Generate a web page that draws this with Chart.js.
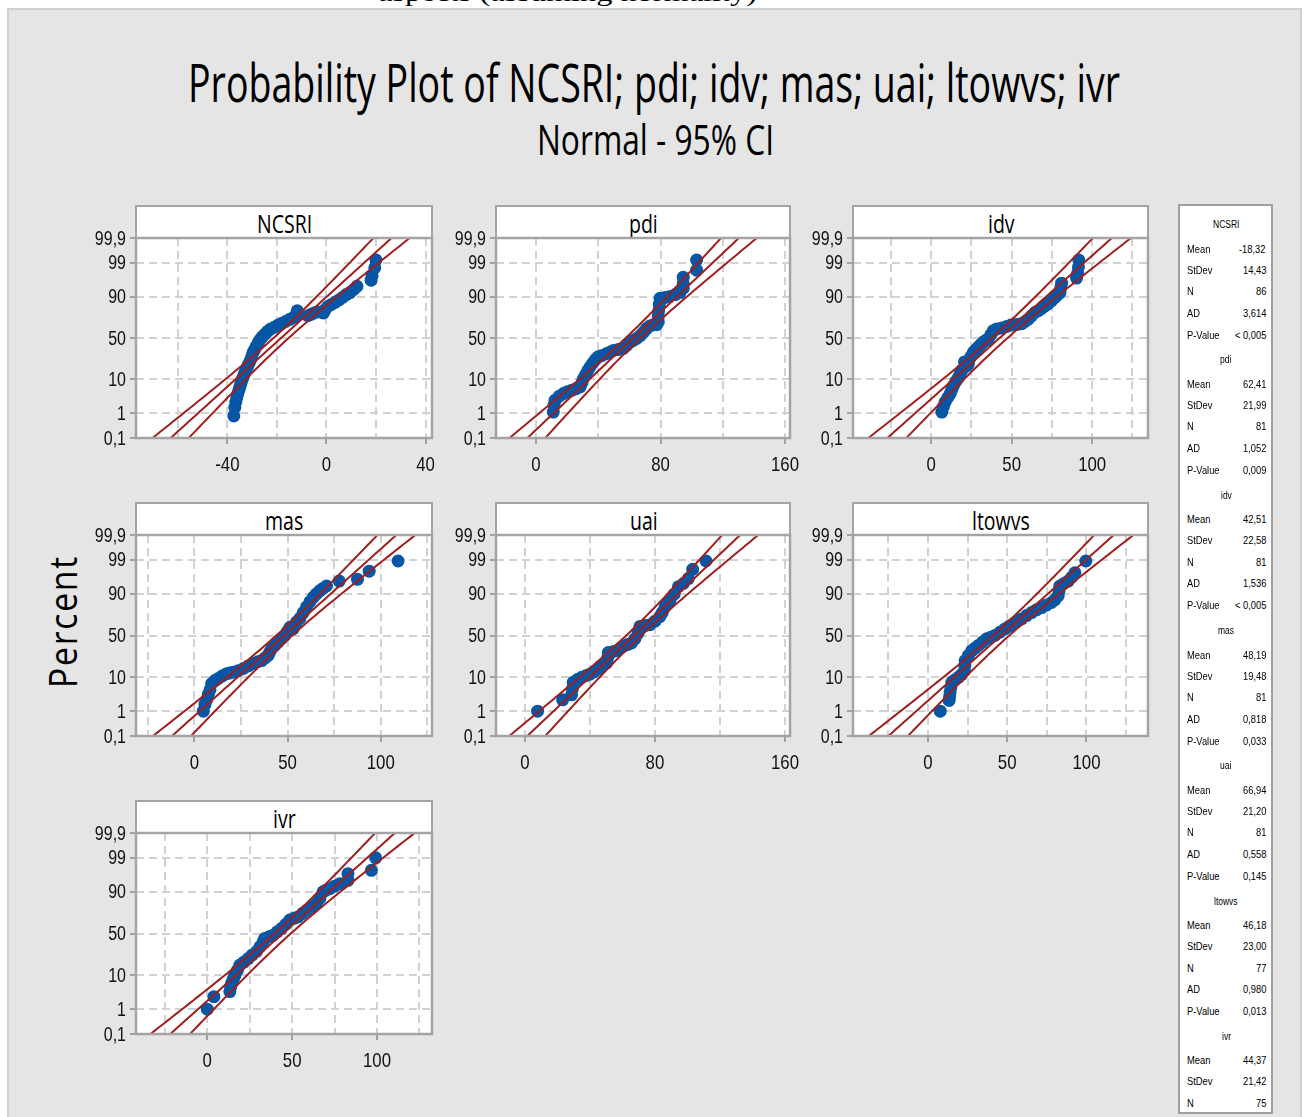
<!DOCTYPE html>
<html>
<head>
<meta charset="utf-8">
<script src="https://cdn.jsdelivr.net/npm/chart.js@4.4.1/dist/chart.umd.min.js"></script>
<style>
  body { margin: 0; width: 1307px; height: 1117px; overflow: hidden; background: #fff; position: relative; }
  #page { position: absolute; left: 7px; top: 8px; width: 1291px; height: 1130px; background: #e5e5e5; border: 2px solid #d0d0d0; }
  .txt { position: absolute; white-space: nowrap; transform-origin: 0 0; color: #000; }
  .hdr { position: absolute; background: #fff; border: 2px solid #a4a4a4; border-bottom: none; box-sizing: border-box; }
  .plot { position: absolute; }
  #stats { position: absolute; left: 1178px; top: 204px; width: 95px; height: 910px; background: #fff; border: 2px solid #a0a0a0; box-sizing: border-box; }
</style>
</head>
<body>
<div id="page"></div>
<div id="stats"></div>
<script>
// values
const panelNames = ["NCSRI", "pdi", "idv", "mas", "uai", "ltowvs", "ivr"];
const means = [-18.32, 62.41, 42.51, 48.19, 66.94, 46.18, 44.37];
const stdevs = [14.43, 21.99, 22.58, 19.48, 21.20, 23.00, 21.42];
const counts = [86, 81, 81, 81, 81, 77, 75];
const adValues = [3.614, 1.052, 1.536, 0.818, 0.558, 0.980, null];
const pValues = ["< 0,005", "0,009", "< 0,005", "0,033", "0,145", "0,013", null];

const percentTicks = [0.1, 1, 10, 50, 90, 99, 99.9];
const percentLabels = ["0,1", "1", "10", "50", "90", "99", "99,9"];

const xLabels = [[-40, 0, 40], [0, 80, 160], [0, 50, 100], [0, 50, 100], [0, 80, 160], [0, 50, 100], [0, 50, 100]];
const xGrid = [
  [-60, -40, -20, 0, 20, 40],
  [0, 40, 80, 120, 160],
  [-25, 0, 25, 50, 75, 100, 125],
  [-25, 0, 25, 50, 75, 100, 125],
  [0, 40, 80, 120, 160],
  [-25, 0, 25, 50, 75, 100, 125],
  [-25, 0, 25, 50, 75, 100, 125]
];
const xLimits = [[-76.9, 42.6], [-25.7, 163.2], [-48.6, 134.7], [-31.3, 127.5], [-17.8, 163.1], [-47.2, 138.8], [-42, 132.4]];

// [value, percent]
const ncsriPoints = [[-37.4,0.8],[-37.0,1.6],[-36.6,2.4],[-36.2,3.3],[-35.8,4.3],[-35.3,5.5],[-34.9,6.8],[-34.5,8.2],[-34.1,9.8],[-33.6,11.5],[-33.1,13.5],[-32.6,15.8],[-32.0,18.3],[-31.4,21],[-30.8,24],[-30.2,28],[-29.6,33],[-29.0,36],[-28.3,40],[-27.6,44],[-26.8,48],[-25.9,51.5],[-24.9,54.5],[-23.8,58],[-22.5,61],[-21,63],[-19.5,65.5],[-18,67.5],[-16.5,69.5],[-15,71.5],[-13.5,73.5],[-12.3,75],[-12.0,77.5],[-11.8,80],[-7.5,75.5],[-6,77],[-4.5,78.5],[-2.5,79],[-1.2,78],[-0.5,81],[0.5,83.5],[2,85],[3.5,86.5],[5,88],[6.5,89.5],[8,91],[9.5,92],[11,93.3],[12.3,94.5],[18,96.3],[18.4,97.3],[19.5,98.5],[20,99.2]];
const pdiPoints = [[11.1,1.1],[11.6,1.9],[12.2,2.7],[15,3.6],[17.6,4.3],[20,4.8],[22.9,5.3],[25.5,5.8],[28.3,6.5],[29.5,8.3],[30.4,10.4],[31.8,12.8],[33.2,15.5],[34.7,18.5],[36.5,22],[38.3,25.5],[40,28],[42.5,29.5],[45.4,31.5],[47.5,33],[49.7,35],[52.8,36],[56.1,37.5],[58.3,41],[60.4,45],[62.5,47],[64.7,49.5],[67,53],[69,57],[71,61.5],[73.2,64.5],[75.5,66],[77.5,66],[78.6,69],[78.6,75],[78.8,80],[79.2,85],[79.7,89],[83,89.5],[86,90],[89.5,91],[92.5,92],[94.6,93.8],[94.6,95.4],[94.6,97],[103.2,98.2],[103.2,99.2]];
const idvPoints = [[6.6,1.1],[7.6,1.7],[8.7,2.4],[10.3,3.3],[11.8,4.3],[12.8,5.6],[13.8,7],[15.3,9],[16.9,11],[18,13.5],[19,16],[20.7,23],[21.5,19],[23.1,21],[24.6,28],[26.2,33],[27.8,36],[29.3,39],[30.8,42],[32.4,45],[34,47],[35.5,49],[37,54],[38.6,59],[40.7,61],[43.8,62],[46.9,64],[49.5,65.5],[52.1,66],[54,66.5],[56.2,67],[58.3,69.5],[60.3,72],[62.4,75.5],[64.5,78.5],[66.5,80],[68.6,82],[70.7,84],[72.7,85.6],[74.8,87.5],[76.9,89.5],[78.5,91],[80,92],[80.5,94],[81,95.5],[90.3,96.8],[91,97.8],[91.5,98.6],[91.7,99.2]];
const masPoints = [[4.8,1],[5.7,1.7],[6.6,2.4],[7.5,3.5],[8.4,4.7],[9.3,7],[11,8.3],[12.9,9.3],[15,10.7],[17.3,12],[19,12.5],[20.9,13],[23.5,14],[26.3,15.5],[29,17.5],[31.6,19.5],[34,21],[36.1,22],[38,24.5],[39.6,27],[40.5,30.5],[41.4,34],[43.2,38],[45,42],[46.8,46],[48.6,50],[50,55],[51.3,60],[53,58],[54.8,66],[56.6,70],[58.4,76],[60.2,81],[62,85],[63.8,88],[65.5,90],[67.3,91.5],[69,92.6],[70.9,93.6],[77.7,95.3],[87.5,95.8],[93.8,97.6],[109.3,98.9]];
const uaiPoints = [[7.8,1],[23.2,2.4],[28.7,3.4],[29.2,5],[29.7,7.5],[32.3,8.8],[34.9,9.9],[37.5,10.8],[40,11.7],[42.5,13.2],[45.1,15],[47.7,17.5],[50.3,20],[51,25],[51.3,30],[54,31],[56.4,32],[58.5,34.5],[60.5,37],[63,39],[65.6,41],[67.7,46],[69.7,53],[70.3,57],[70.8,61],[73.8,62],[76.9,63],[80,67],[83,72],[84.5,76],[86.2,81],[87.7,83.5],[89.2,86],[91.8,89.8],[94.4,93.3],[97.5,94.5],[100.5,96],[103.2,97.9],[111.4,98.9]];
const ltowvsPoints = [[7.8,1],[13.4,2.3],[13.7,3],[14,4],[14.5,5.5],[15.1,7.5],[17.2,8.7],[19.3,9.9],[21.2,11.5],[23.1,14],[23.3,18],[23.5,22],[25.6,27],[27.7,32],[29.8,35],[31.9,38],[34.5,42],[37.1,46],[39.7,48],[42.3,50],[45.4,54],[48.6,58],[51.2,61],[53.9,64],[56.5,67],[59.1,69.5],[62.2,73],[65.4,76],[68.5,78.5],[71.7,80.5],[74.8,82.5],[78,84.5],[80.1,86.5],[82.2,89],[82.7,91.5],[83.2,93.6],[85.8,94.5],[88.5,95.3],[90.6,96.3],[92.7,97.3],[99.6,98.9]];
const ivrPoints = [[0,1],[3.9,2.6],[13.3,3.7],[13.8,5],[14.3,6.3],[15.3,8],[16.3,10],[17.8,13],[19.2,16.6],[21.6,19],[24.1,22],[26.5,25.5],[29,29],[31,34],[32.9,40],[33.9,44],[36.3,46],[38.8,48],[41.2,52],[43.7,56],[46.2,61],[48.6,66],[51,68],[53.5,69.5],[56,73],[58.4,76],[61.3,79],[64.3,82],[66.3,86],[68.2,90],[70.2,91],[72.2,91.6],[75,92.7],[78,93.7],[82.9,94.9],[82.9,96.7],[96.7,97.4],[99.2,99]];
const allPoints = [ncsriPoints, pdiPoints, idvPoints, masPoints, uaiPoints, ltowvsPoints, ivrPoints];

// layout: plot area left, top, width, height
const plotBoxes = [[136,238,296,200],[496,238,294,200],[853,238,295,200],[136,535,296,201],[496,535,294,201],[853,535,295,201],[136,833,296,201]];

const tickFont = "'Liberation Sans', Arial, sans-serif";
const red = "#a01e1e";
const blue = "#0656a6";

// inverse normal cdf (normal probability axis)
function probit(p) {
  const a = [-3.969683028665376e+01, 2.209460984245205e+02, -2.759285104469687e+02, 1.383577518672690e+02, -3.066479806614716e+01, 2.506628277459239e+00];
  const b = [-5.447609879822406e+01, 1.615858368580409e+02, -1.556989798598866e+02, 6.680131188771972e+01, -1.328068155288572e+01];
  const c = [-7.784894002430293e-03, -3.223964580411365e-01, -2.400758277161838e+00, -2.549671348850910e+00, 4.374664141464968e+00, 2.938163982698783e+00];
  const d = [7.784695709041462e-03, 3.224671290700398e-01, 2.445134137142996e+00, 3.754408661907416e+00];
  let q, r;
  if (p < 0.02425) {
    q = Math.sqrt(-2 * Math.log(p));
    return (((((c[0]*q+c[1])*q+c[2])*q+c[3])*q+c[4])*q+c[5]) / ((((d[0]*q+d[1])*q+d[2])*q+d[3])*q+1);
  }
  if (p > 1 - 0.02425) {
    q = Math.sqrt(-2 * Math.log(1 - p));
    return -(((((c[0]*q+c[1])*q+c[2])*q+c[3])*q+c[4])*q+c[5]) / ((((d[0]*q+d[1])*q+d[2])*q+d[3])*q+1);
  }
  q = p - 0.5; r = q * q;
  return (((((a[0]*r+a[1])*r+a[2])*r+a[3])*r+a[4])*r+a[5])*q / (((((b[0]*r+b[1])*r+b[2])*r+b[3])*r+b[4])*r+1);
}
const zMax = probit(0.999);

// text helper: x is left/center/right, y is baseline; k = baseline ratio with line-height 0
function addText(str, o) {
  const d = document.createElement('div');
  d.className = 'txt';
  d.textContent = str;
  d.style.font = o.font;
  d.style.lineHeight = '0';
  if (o.spacing) d.style.letterSpacing = o.spacing;
  document.body.appendChild(d);
  const natural = d.getBoundingClientRect().width;
  const s = o.width ? o.width / natural : (o.scale || 1);
  const w = natural * s;
  const size = parseFloat(o.font.match(/(\d+(\.\d+)?)px/)[1]);
  const k = o.k || 0.388;
  if (o.rotate) {
    d.style.left = (o.x - k * size) + 'px';
    d.style.top = (o.y + w / 2) + 'px';
    d.style.transform = 'rotate(-90deg) scaleX(' + s + ')';
    return d;
  }
  let left = o.x;
  if (o.align === 'center') left = o.x - w / 2;
  if (o.align === 'right') left = o.x - w;
  d.style.left = left + 'px';
  d.style.top = (o.y - k * size) + 'px';
  d.style.transform = 'scaleX(' + s + ')';
  return d;
}

// page texts
addText("aspects (assuming normality)", { font: "26px 'Liberation Serif', serif", x: 378, y: 2, width: 379, k: 0.3465 });
addText("Probability Plot of NCSRI; pdi; idv; mas; uai; ltowvs; ivr", { font: "53px 'Open Sans', sans-serif", x: 654, y: 103, width: 932, align: 'center' });
addText("Normal - 95% CI", { font: "42px 'Open Sans', sans-serif", x: 655.5, y: 155, width: 237, align: 'center' });
addText("Percent", { font: "38px 'Open Sans', sans-serif", spacing: "2px", x: 77, y: 621.5, width: 133, rotate: true });

// frame + white plot background
const framePlugin = {
  id: 'frame',
  beforeDraw(chart) {
    const { ctx, chartArea: a } = chart;
    ctx.save();
    ctx.fillStyle = '#fff';
    ctx.fillRect(a.left, a.top, a.width, a.height);
    ctx.restore();
  },
  afterDraw(chart) {
    const { ctx, chartArea: a } = chart;
    ctx.save();
    ctx.strokeStyle = '#a4a4a4';
    ctx.lineWidth = 2.5;
    ctx.strokeRect(a.left, a.top, a.width, a.height);
    ctx.restore();
  }
};

// condensed tick labels placed through the chart's scales
function squeezed(ctx, s, x, y, align) {
  ctx.save();
  ctx.translate(x, y);
  ctx.scale(0.8, 1);
  ctx.textAlign = align;
  ctx.fillText(s, 0, 0);
  ctx.restore();
}
const tickLabelPlugin = {
  id: 'tickLabels',
  afterDraw(chart, args, opts) {
    const { ctx, chartArea: a, scales } = chart;
    ctx.save();
    ctx.fillStyle = '#111';
    ctx.textBaseline = 'middle';
    ctx.font = '21px ' + tickFont;
    opts.labels.forEach(v => {
      squeezed(ctx, String(v), scales.x.getPixelForValue(v), a.bottom + 27, 'center');
    });
    ctx.font = '20px ' + tickFont;
    percentTicks.forEach((p, k) => {
      squeezed(ctx, percentLabels[k], a.left - 10, scales.y.getPixelForValue(probit(p / 100)) + 1, 'right');
    });
    ctx.restore();
  }
};

function lineData(m, s, n, side) {
  const out = [];
  for (let i = 0; i <= 60; i++) {
    const z = -zMax + (2 * zMax) * i / 60;
    const half = 1.96 * s * Math.sqrt(1 / n + z * z / (2 * n));
    out.push({ x: m + z * s + side * half, y: z });
  }
  return out;
}

panelNames.forEach((name, i) => {
  const [px, py, pw, ph] = plotBoxes[i];

  const hdr = document.createElement('div');
  hdr.className = 'hdr';
  hdr.style.left = (px - 1) + 'px';
  hdr.style.top = (py - 33) + 'px';
  hdr.style.width = (pw + 2) + 'px';
  hdr.style.height = '34px';
  document.body.appendChild(hdr);
  addText(name, { font: "25px 'Open Sans', sans-serif", x: px + pw / 2 + 0.5, y: py - 5, scale: 0.78, align: 'center' });

  const wrap = document.createElement('div');
  wrap.className = 'plot';
  const padTop = 14, yw = 60, padRight = 26, xh = 44;
  wrap.style.left = (px - yw) + 'px';
  wrap.style.top = (py - padTop) + 'px';
  const cv = document.createElement('canvas');
  cv.width = pw + yw + padRight;
  cv.height = ph + padTop + xh;
  cv.style.width = cv.width + 'px';
  cv.style.height = cv.height + 'px';
  wrap.appendChild(cv);
  document.body.appendChild(wrap);

  const lineStyle = { showLine: true, pointRadius: 0, borderColor: red, borderWidth: 2, fill: false, tension: 0 };

  new Chart(cv, {
    type: 'scatter',
    data: {
      datasets: [
        Object.assign({ data: lineData(means[i], stdevs[i], counts[i], -1) }, lineStyle),
        Object.assign({ data: lineData(means[i], stdevs[i], counts[i], 1) }, lineStyle),
        Object.assign({ data: lineData(means[i], stdevs[i], counts[i], 0) }, lineStyle),
        {
          data: allPoints[i].map(p => ({ x: p[0], y: probit(p[1] / 100) })),
          pointRadius: 6.5,
          pointBackgroundColor: blue,
          pointBorderWidth: 0,
          showLine: false
        }
      ]
    },
    options: {
      responsive: false,
      animation: false,
      events: [],
      layout: { padding: { top: padTop, right: padRight, left: 0, bottom: 0 } },
      plugins: { legend: { display: false }, tooltip: { enabled: false }, tickLabels: { labels: xLabels[i] } },
      scales: {
        x: {
          type: 'linear',
          min: xLimits[i][0],
          max: xLimits[i][1],
          afterBuildTicks: sc => { sc.ticks = xGrid[i].map(v => ({ value: v })); },
          afterFit: sc => { sc.height = xh; },
          border: { display: false, dash: [8, 5] },
          grid: {
            color: '#d2d2d2',
            lineWidth: 2,
            tickLength: 6,
            tickWidth: 1.5,
            tickBorderDash: [],
            tickColor: ctx => (ctx.tick && xLabels[i].includes(ctx.tick.value)) ? '#8a8a8a' : 'rgba(0,0,0,0)'
          },
          ticks: { display: false }
        },
        y: {
          min: -zMax,
          max: zMax,
          afterBuildTicks: sc => { sc.ticks = percentTicks.map(p => ({ value: probit(p / 100) })); },
          afterFit: sc => { sc.width = yw; },
          border: { display: false, dash: [8, 5] },
          grid: {
            color: ctx => (ctx.index === 0 || ctx.index === percentTicks.length - 1) ? 'rgba(0,0,0,0)' : '#d2d2d2',
            lineWidth: 2,
            tickLength: 6,
            tickWidth: 1.5,
            tickBorderDash: [],
            tickColor: '#8a8a8a'
          },
          ticks: { display: false }
        }
      }
    },
    plugins: [framePlugin, tickLabelPlugin]
  });
});

// statistics box
const statFont = "11px 'Liberation Sans', Arial, sans-serif";
const rowOffsets = [23.5, 44.5, 66, 87.5, 109.5];
const statNames = ["Mean", "StDev", "N", "AD", "P-Value"];
panelNames.forEach((name, i) => {
  const gy = 225 + i * 135.3;
  addText(name, { font: "10px 'Liberation Sans', Arial, sans-serif", x: 1226, y: gy + 3.5, scale: 0.85, align: 'center', k: 0.3465 });
  const vals = [
    means[i].toFixed(2).replace('.', ','),
    stdevs[i].toFixed(2).replace('.', ','),
    String(counts[i]),
    adValues[i] === null ? null : adValues[i].toFixed(3).replace('.', ','),
    pValues[i]
  ];
  statNames.forEach((lab, r) => {
    if (vals[r] === null) return;
    const y = gy + rowOffsets[r] + 4;
    addText(lab, { font: statFont, x: 1187, y: y, scale: 0.85, k: 0.3465 });
    addText(vals[r], { font: statFont, x: 1266, y: y, scale: 0.85, align: 'right', k: 0.3465 });
  });
});
</script>
</body>
</html>
